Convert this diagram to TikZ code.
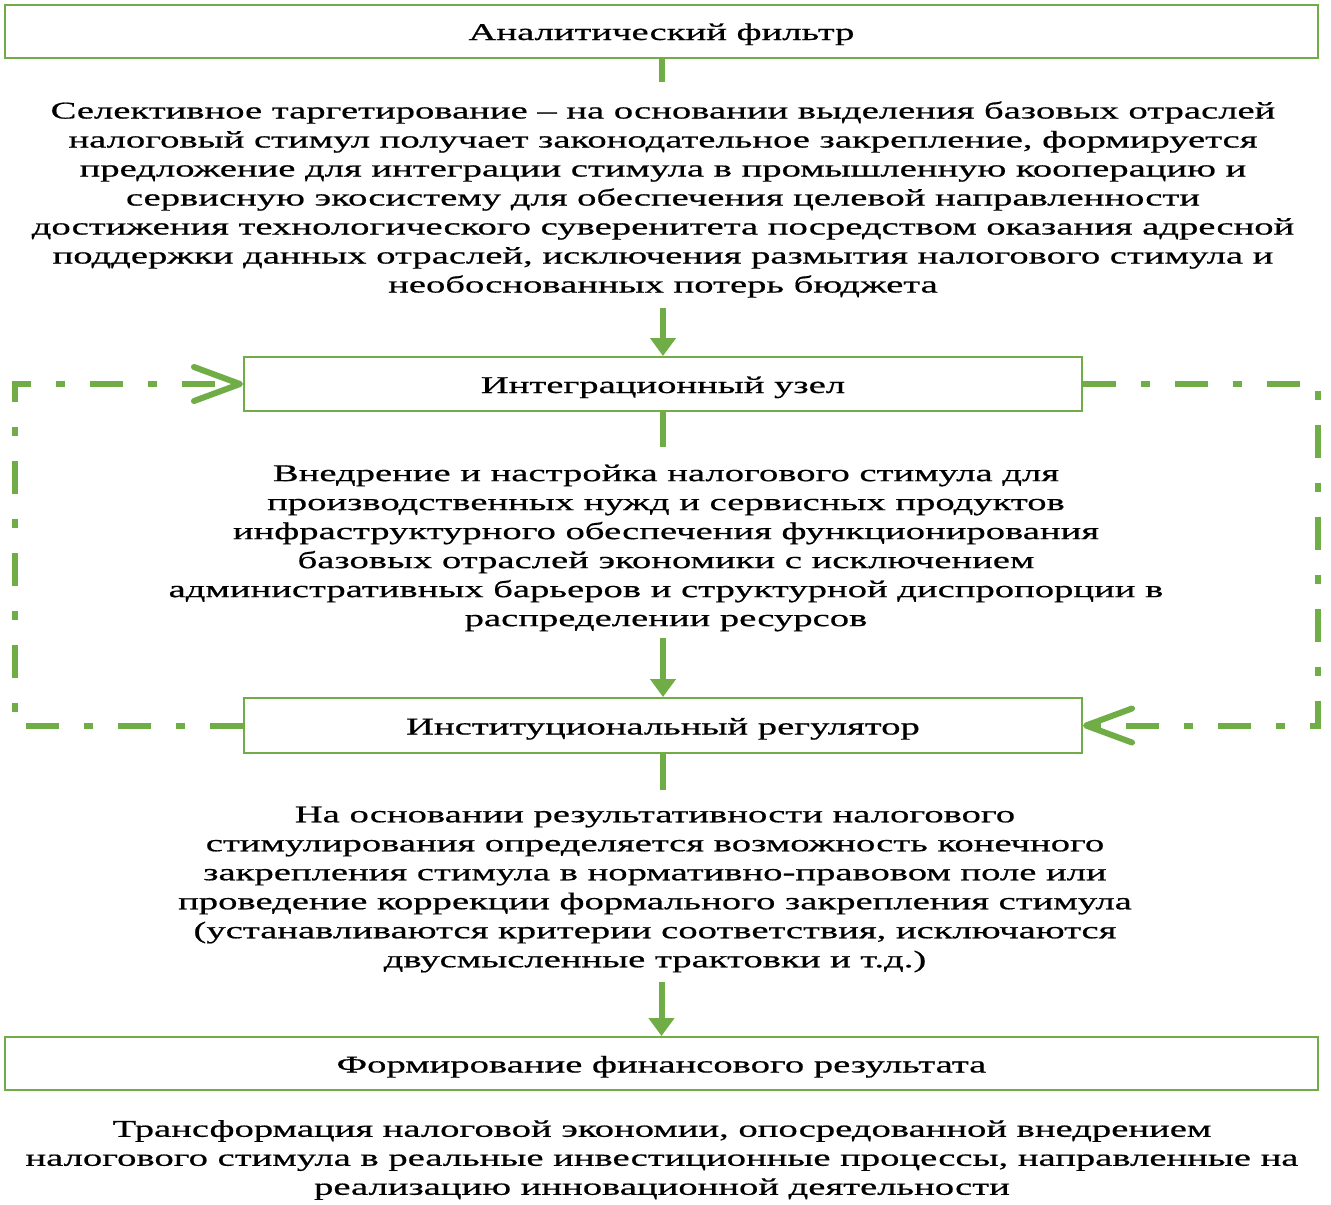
\documentclass[tikz,border=0pt]{standalone}
\usepackage{fontspec}
\setmainfont{Liberation Serif}[FakeStretch=1.61,FakeBold=0.6]
\usetikzlibrary{arrows.meta}
\definecolor{grn}{RGB}{112,173,71}
\tikzset{
  box/.style={draw=grn,line width=2pt,inner sep=0pt,minimum height=53pt,text height=19.5pt,text depth=1.5pt,font=\fontsize{24}{29}\selectfont},
  txt/.style={inner sep=0pt,align=center,font=\fontsize{24}{29}\selectfont},
  link/.style={draw=grn,line width=6pt},
  flow/.style={draw=grn,line width=6pt,-{Triangle[width=25pt,length=18pt]}},
  loop/.style={draw=grn,line width=6pt,dash pattern=on 33pt off 25pt on 9pt off 25pt,-{Straight Barb[length=46pt,width=34pt,round]}}
}
\begin{document}
\begin{tikzpicture}[x=1pt,y=-1pt]
\useasboundingbox[fill=white] (0,0) rectangle (1331,1205);
\node[box,minimum width=1313pt] (b1) at (661.5,31) {Аналитический фильтр};
\node[box,minimum width=838pt,minimum height=54pt] (b2) at (663,384) {Интеграционный узел};
\node[box,minimum width=838pt,minimum height=55pt] (b3) at (663,725.5) {Институциональный регулятор};
\node[box,minimum width=1313pt] (b4) at (661.5,1063.5) {Формирование финансового результата};

\node[txt] (t1) at (663,199.5) {Селективное таргетирование – на основании выделения базовых отраслей\\
налоговый стимул получает законодательное закрепление, формируется\\
предложение для интеграции стимула в промышленную кооперацию и\\
сервисную экосистему для обеспечения целевой направленности\\
достижения технологического суверенитета посредством оказания адресной\\
поддержки данных отраслей, исключения размытия налогового стимула и\\
необоснованных потерь бюджета};
\node[txt] (t2) at (666,548) {Внедрение и настройка налогового стимула для\\
производственных нужд и сервисных продуктов\\
инфраструктурного обеспечения функционирования\\
базовых отраслей экономики с исключением\\
административных барьеров и структурной диспропорции в\\
распределении ресурсов};
\node[txt] (t3) at (655,889.5) {На основании результативности налогового\\
стимулирования определяется возможность конечного\\
закрепления стимула в нормативно-правовом поле или\\
проведение коррекции формального закрепления стимула\\
(устанавливаются критерии соответствия, исключаются\\
двусмысленные трактовки и т.д.)};
\node[txt] (t4) at (662,1160) {Трансформация налоговой экономии, опосредованной внедрением\\
налогового стимула в реальные инвестиционные процессы, направленные на\\
реализацию инновационной деятельности};

\coordinate (e1) at (661.5,82);
\coordinate (s2) at (663,308);
\coordinate (e2) at (663,447);
\coordinate (s3) at (663,638);
\coordinate (e3) at (663,790);
\coordinate (s4) at (661.5,982);
\coordinate (lb) at (15,725.5);
\coordinate (lt) at (15,384);
\coordinate (rt) at (1318,384);
\coordinate (rb) at (1318,725.5);

\draw[link] (b1.south) -- (e1);
\draw[flow] (s2) -- (b2.north);
\draw[link] (b2.south) -- (e2);
\draw[flow] (s3) -- (b3.north);
\draw[link] (b3.south) -- (e3);
\draw[flow] (s4) -- (b4.north);

\draw[loop] (b3.west) -- (lb) -- (lt) -- (b2.west);
\draw[loop] (b2.east) -- (rt) -- (rb) -- (b3.east);
\end{tikzpicture}
\end{document}
